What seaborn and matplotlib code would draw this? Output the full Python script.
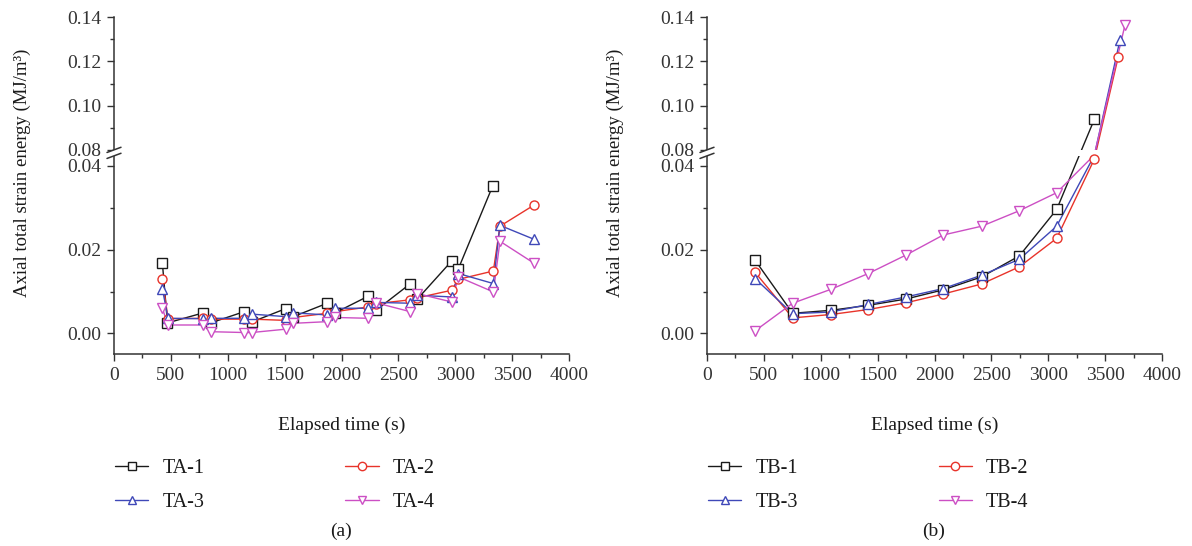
import numpy as np
import matplotlib
matplotlib.use("Agg")
import matplotlib.pyplot as plt
import seaborn as sns
from matplotlib.lines import Line2D
from matplotlib.patches import Rectangle, Polygon
from matplotlib.ticker import FixedLocator, FormatStrFormatter

# ---------------- data ----------------
t_TA1 = [425, 470, 785, 850, 1146, 1210, 1509, 1577, 1875, 1943, 2236, 2303, 2602, 2667, 2969, 3027, 3329]
TA1 = [0.0169, 0.0025, 0.0049, 0.0025, 0.0052, 0.0027, 0.0059, 0.0040, 0.0072, 0.0049, 0.0089, 0.0055, 0.0118, 0.0082, 0.0173, 0.0154, 0.0352]
t_TA = [425, 475, 785, 850, 1146, 1210, 1509, 1577, 1875, 1943, 2236, 2303, 2602, 2667, 2969, 3027, 3335, 3393, 3690]
TA2 = [0.0131, 0.0035, 0.0036, 0.0034, 0.0034, 0.0034, 0.0031, 0.0038, 0.0048, 0.0052, 0.0063, 0.0071, 0.0080, 0.0085, 0.0103, 0.0129, 0.0149, 0.0256, 0.0306]
TA3 = [0.0107, 0.0036, 0.0035, 0.0036, 0.0036, 0.0046, 0.0040, 0.0049, 0.0044, 0.0060, 0.0060, 0.0074, 0.0072, 0.0091, 0.0087, 0.0143, 0.0119, 0.0258, 0.0225]
TA4 = [0.0060, 0.0020, 0.0020, 0.0004, 0.0002, 0.0002, 0.0010, 0.0024, 0.0028, 0.0038, 0.0036, 0.0073, 0.0052, 0.0095, 0.0075, 0.0135, 0.0099, 0.0220, 0.0168]

t_TB1 = [422, 753, 1087, 1418, 1749, 2077, 2415, 2746, 3074, 3405]
TB1 = [0.0175, 0.0048, 0.0055, 0.0067, 0.0082, 0.0104, 0.0135, 0.0185, 0.0296, 0.0938]
t_TB2 = [422, 753, 1087, 1418, 1749, 2077, 2415, 2746, 3074, 3405, 3616]
TB2 = [0.0146, 0.0037, 0.0045, 0.0057, 0.0073, 0.0094, 0.0118, 0.0159, 0.0227, 0.0416, 0.1222]
t_TB3 = [422, 753, 1087, 1418, 1749, 2077, 2415, 2746, 3074, 3405, 3631]
TB3 = [0.0131, 0.0047, 0.0051, 0.0069, 0.0087, 0.0107, 0.0139, 0.0177, 0.0256, 0.0450, 0.1298]
t_TB4 = [422, 753, 1087, 1418, 1749, 2077, 2415, 2746, 3074, 3405, 3675]
TB4 = [0.0006, 0.0072, 0.0105, 0.0143, 0.0187, 0.0235, 0.0256, 0.0293, 0.0336, 0.0480, 0.1366]

labels_a = ["TA-1", "TA-2", "TA-3", "TA-4"]
labels_b = ["TB-1", "TB-2", "TB-3", "TB-4"]
x_ticks = [0, 500, 1000, 1500, 2000, 2500, 3000, 3500, 4000]
y_major = [0.00, 0.02, 0.04, 0.08, 0.10, 0.12, 0.14]
y_minor = [0.01, 0.03, 0.09, 0.11, 0.13]

colors = ["#1a1a1a", "#E8332A", "#3F48B8", "#CC4FC4"]
markers = ["s", "o", "^", "v"]

# ---------------- broken-axis scale ----------------
L, U = 0.0424, 0.08      # lower segment top, upper segment bottom
G, K = 0.00143, 0.5278   # gap size and upper compression


def fwd(y):
    y = np.asarray(y, float)
    return np.where(y <= L, y,
                    np.where(y >= U, L + G + (y - U) * K, L + (y - L) / (U - L) * G))


def inv(t):
    t = np.asarray(t, float)
    return np.where(t <= L, t,
                    np.where(t >= L + G, U + (t - L - G) / K, L + (t - L) / G * (U - L)))


YMIN, YMAX = -0.005, 0.14

sns.set_style("ticks")
plt.rcParams["font.family"] = ["Liberation Serif", "DejaVu Serif"]
plt.rcParams["axes.edgecolor"] = "#333333"
plt.rcParams["xtick.color"] = "#333333"
plt.rcParams["ytick.color"] = "#333333"
plt.rcParams["text.color"] = "#1a1a1a"
plt.rcParams["axes.labelcolor"] = "#1a1a1a"

W, H = 1192, 546
fig = plt.figure(figsize=(W / 100, H / 100), dpi=100)


def px2fig(px, py):
    return px / W, 1 - py / H


def make_panel(left_px, series, labels, letter):
    ax_left, ax_bot = px2fig(left_px, 354.3)
    ax = fig.add_axes([ax_left, ax_bot, 455 / W, 337 / H])
    # lines
    for (t, v), c in zip(series, colors):
        sns.lineplot(x=np.array(t), y=np.array(v), ax=ax, color=c, lw=1.0,
                     sort=False, zorder=2)
    # markers (points inside the axis break are not drawn)
    for (t, v), c, m in zip(series, colors, markers):
        t = np.array(t); v = np.array(v)
        keep = ~((v > L) & (v < U))
        sns.lineplot(x=t[keep], y=v[keep], ax=ax, color=c, linestyle="none",
                     marker=m, markersize=7 if m != "o" else 6.5,
                     markerfacecolor="white", markeredgecolor=c,
                     markeredgewidth=1.0, sort=False, zorder=4)
    ax.set_yscale("function", functions=(fwd, inv))
    ax.set_ylim(YMIN, YMAX)
    ax.set_xlim(0, 4000)
    ax.xaxis.set_major_locator(FixedLocator(x_ticks))
    ax.xaxis.set_minor_locator(FixedLocator([v + 250 for v in x_ticks[:-1]]))
    ax.yaxis.set_major_locator(FixedLocator(y_major))
    ax.yaxis.set_minor_locator(FixedLocator(y_minor))
    ax.yaxis.set_major_formatter(FormatStrFormatter("%.2f"))
    ax.tick_params(which="major", direction="out", length=5, width=1.0, labelsize=14, pad=4)
    ax.tick_params(which="minor", direction="out", length=3, width=1.0)
    sns.despine(ax=ax)
    for s in ("left", "bottom"):
        ax.spines[s].set_linewidth(1.1)
    ax.set_xlabel("Elapsed time (s)", fontsize=14)
    ax.xaxis.set_label_coords(0.5, -0.185)
    ax.set_ylabel("Axial total strain energy (MJ/m³)", fontsize=13.5)
    ax.yaxis.set_label_coords(-0.182, 0.54)

    # axis break: white band + slanted marks
    tmin, tmax = float(fwd(YMIN)), float(fwd(YMAX))
    fr_lo = (float(fwd(L)) - tmin) / (tmax - tmin)
    fr_hi = (float(fwd(U)) - tmin) / (tmax - tmin)
    py_lo = 354.3 - fr_lo * 337
    py_hi = 354.3 - fr_hi * 337
    ax.add_patch(Rectangle((0, fr_lo), 1.02, fr_hi - fr_lo, transform=ax.transAxes,
                           facecolor="white", edgecolor="none", zorder=3, clip_on=False))
    dx, dy = 7, 2.6
    poly = [px2fig(left_px - dx, py_hi + dy), px2fig(left_px + dx, py_hi - dy),
            px2fig(left_px + dx, py_lo - dy), px2fig(left_px - dx, py_lo + dy)]
    fig.add_artist(Polygon(poly, closed=True, facecolor="white", edgecolor="none",
                           transform=fig.transFigure, zorder=10))
    for pyc in (py_hi, py_lo):
        x0, y0 = px2fig(left_px - dx, pyc + dy)
        x1, y1 = px2fig(left_px + dx, pyc - dy)
        fig.add_artist(Line2D([x0, x1], [y0, y1], color="#333333", lw=1.1,
                              transform=fig.transFigure, zorder=11))

    # legend
    handles = [Line2D([], [], color=c, marker=m, markerfacecolor="white",
                      markeredgecolor=c, markersize=6, lw=1.0)
               for c, m in zip(colors, markers)]
    order = [0, 2, 1, 3]
    lx, ly = px2fig(left_px + 1, 459)
    fig.legend([handles[i] for i in order], [labels[i] for i in order],
               loc="upper left", bbox_to_anchor=(lx, ly), ncol=2, frameon=False,
               fontsize=14.5, handlelength=1.65, handletextpad=0.7,
               columnspacing=7.0, labelspacing=0.75, borderpad=0, borderaxespad=0)
    cx, cy = px2fig(left_px + 227, 531)
    fig.text(cx, cy, letter, ha="center", va="center", fontsize=14)
    return ax


make_panel(114, [(t_TA1, TA1), (t_TA, TA2), (t_TA, TA3), (t_TA, TA4)], labels_a, "(a)")
make_panel(707, [(t_TB1, TB1), (t_TB2, TB2), (t_TB3, TB3), (t_TB4, TB4)], labels_b, "(b)")

fig.savefig("out.png", dpi=100)
